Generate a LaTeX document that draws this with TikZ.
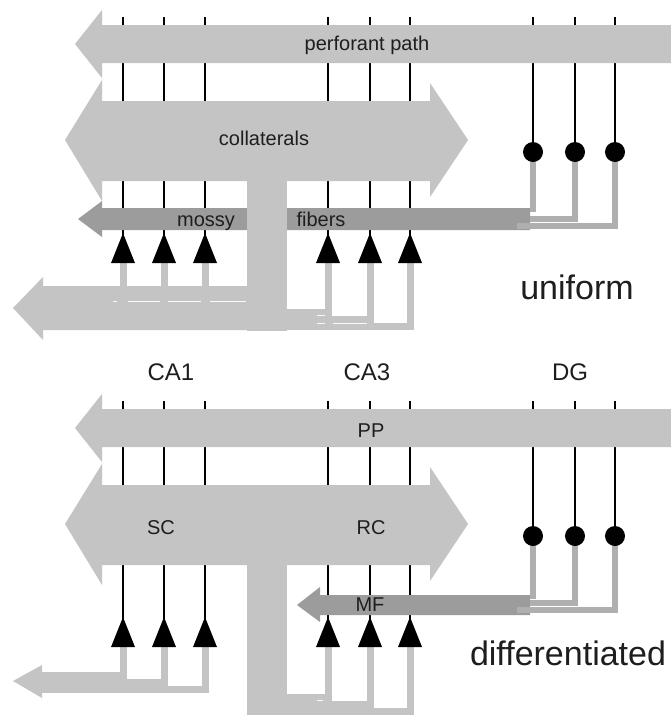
\documentclass[tikz,border=0pt]{standalone}
\usepackage{fontspec}
\setmainfont{Liberation Sans}
\definecolor{lg}{HTML}{C4C4C4}
\definecolor{dg}{HTML}{9C9C9C}
\definecolor{mg}{HTML}{AFAFAF}
\definecolor{txt}{HTML}{1E1E1E}
\tikzset{
  blk/.style={line width=1.8pt, draw=black},
  outl/.style={line width=7pt, draw=lg, line join=miter},
  dgl/.style={line width=6pt, draw=mg, line join=miter},
  gap/.style={line width=0.9pt, draw=white!92!lg},
  lab/.style={anchor=base, text=txt, font=\fontsize{20}{24}\selectfont, inner sep=0pt},
  biglab/.style={anchor=base, text=txt, font=\fontsize{34}{40}\selectfont, inner sep=0pt},
  calab/.style={anchor=base, text=txt, font=\fontsize{24}{28}\selectfont, inner sep=0pt}
}
\begin{document}
\begin{tikzpicture}[x=1pt,y=-1pt]
\useasboundingbox (0,0) rectangle (671,715);
\fill[white] (0,0) rectangle (671,715);
% ---------------- common parts of both panels
\foreach \o in {0,384}{
  % black axon lines
  \foreach \x in {123,164,205,328,370,410}
    \draw[blk] (\x,17+\o) -- (\x,236+\o);
  \foreach \x in {533,575,615}
    \draw[blk] (\x,17+\o) -- (\x,150+\o);
  % perforant path arrow
  \fill[lg] (671,25+\o) -- (102,25+\o) -- (102,10+\o) -- (75,44+\o) -- (102,78+\o)
    -- (102,63+\o) -- (671,63+\o) -- cycle;
  % collaterals (double arrow)
  \fill[lg] (102,101+\o) -- (102,80+\o) -- (65,140+\o) -- (102,201+\o) -- (102,181+\o)
    -- (430,181+\o) -- (430,197+\o) -- (468,140+\o) -- (430,83+\o) -- (430,101+\o) -- cycle;
}
% ---------------- top panel: mossy fibers bar
\fill[dg] (530,208) -- (102,208) -- (102,201) -- (78,219) -- (102,237) -- (102,230) -- (530,230) -- cycle;
% stems
\fill[lg] (247,180) rectangle (287,331);
\fill[lg] (247,564) rectangle (287,715);
% top DG outputs
\draw[dgl] (533,152) -- (533,212);
\draw[dgl] (575,152) -- (575,219) -- (530,219);
\draw[dgl] (615,152) -- (615,226) -- (517,226);
% top CA1 outputs and arrow
\foreach \x in {123,164,205} \draw[outl] (\x,263) -- (\x,290);
\fill[lg] (248,286) -- (43,286) -- (43,277) -- (13,308) -- (43,340) -- (43,330) -- (248,330) -- cycle;
% top CA3 outputs
\draw[outl] (328,263) -- (328,312) -- (285,312);
\draw[outl] (370,263) -- (370,319) -- (285,319);
\draw[outl] (410,263) -- (410,326) -- (285,326);
% seams
\draw[gap] (113,301) -- (117,301) (128,301) -- (160,301) (168,301) -- (201,301) (210,301) -- (246,301);
\draw[gap] (317,315.5) -- (325,315.5) (317,323) -- (325,323) (333,323) -- (367,323);
% ---------------- bottom panel
\fill[dg] (530,595) -- (320,595) -- (320,587) -- (297,605) -- (320,622) -- (320,615) -- (530,615) -- cycle;
\draw[dgl] (533,536) -- (533,599);
\draw[dgl] (575,536) -- (575,603) -- (530,603);
\draw[dgl] (615,536) -- (615,610) -- (517,610);
% bottom CA1 outputs
\draw[outl] (123,647) -- (123,675) -- (40,675);
\draw[outl] (164,647) -- (164,682) -- (40,682);
\draw[outl] (205,647) -- (205,689) -- (40,689);
\fill[lg] (42,665) -- (13,681) -- (42,698) -- cycle;
% bottom CA3 outputs
\draw[outl] (328,647) -- (328,697) -- (285,697);
\draw[outl] (370,647) -- (370,704) -- (285,704);
\draw[outl] (410,647) -- (410,711) -- (285,711);
\draw[gap] (317,700.5) -- (323,700.5);
% ---------------- synapses
\foreach \o in {0,384}{
  \foreach \x in {123,164,205,328,370,410}
    \fill[black] (\x,233+\o) -- (\x-12,263+\o) -- (\x+12,263+\o) -- cycle;
  \foreach \x in {533,575,615}
    \fill[black] (\x,152+\o) circle[radius=10pt];
}
% ---------------- labels
\node[lab] (pp1) at (367,50) {perforant path};
\node[lab] (col) at (264,145) {collaterals};
\node[lab] (mos) at (206,226) {mossy};
\node[lab] (fib) at (321,226) {fibers};
\node[biglab] (uni) at (577,299) {uniform};
\node[calab] (ca1) at (171,380) {CA1};
\node[calab] (ca3) at (367,380) {CA3};
\node[calab] (dgl) at (570,380) {DG};
\node[lab] (pp2) at (371,437) {PP};
\node[lab] (sc) at (161,534) {SC};
\node[lab] (rc) at (371,534) {RC};
\node[lab] (mf) at (370,611) {MF};
\node[biglab] (dif) at (568,665) {differentiated};
\end{tikzpicture}
\end{document}
